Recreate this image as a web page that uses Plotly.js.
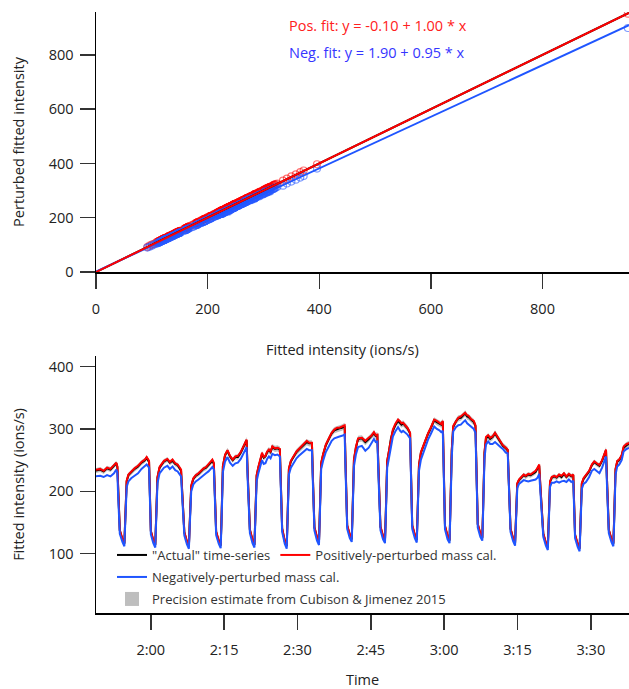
<!DOCTYPE html>
<html>
<head>
<meta charset="utf-8">
<script src="https://cdn.plot.ly/plotly-3.0.1.min.js"></script>
<style>
html,body{margin:0;padding:0;background:#fff;}
#chart{width:629px;height:689px;}
</style>
</head>
<body>
<div id="chart"></div>
<script>
// ---------------- DATA ----------------
// Time in minutes after 0:00 (2:00 = 120). One line per plateau / dip.
const timeMin = [
  108.5,109.65,110.36,111.06,111.76,112.47,112.96,113.17,
  113.33,113.5,113.67,114.2,114.6,114.75,114.9,115.07,115.43,
  115.99,116.69,117.40,118.10,118.81,119.16,119.65,
  119.77,119.9,120.02,120.52,120.92,121.07,121.22,121.37,121.8,
  122.3,122.7,123.4,123.9,124.45,125.0,125.5,126.2,
  126.42,126.65,126.87,127.4,127.8,127.95,128.1,128.27,128.7,
  129.2,129.76,130.3,130.8,131.3,131.8,132.3,132.6,132.9,
  133.05,133.2,133.37,133.9,134.3,134.45,134.6,134.75,
  135.2,135.7,136.2,136.76,137.3,137.82,138.4,138.88,139.3,139.6,
  139.8,140.03,140.27,140.8,141.2,141.35,141.5,141.65,142.0,
  142.4,142.75,143.1,143.45,143.8,144.16,144.5,144.86,145.4,145.92,146.4,
  146.55,146.7,146.87,147.4,147.8,147.95,148.1,148.25,148.65,
  149.2,149.8,150.3,150.85,151.4,151.9,152.4,152.96,
  153.13,153.3,153.47,154.0,154.4,154.55,154.7,154.85,155.25,
  155.8,156.48,157.0,157.54,158.1,158.6,159.1,159.65,
  159.82,160.0,160.17,160.7,161.1,161.25,161.4,161.55,161.95,
  162.4,163.17,163.88,164.58,165.1,165.64,166.0,166.34,
  166.55,166.77,166.97,167.5,167.9,168.05,168.2,168.35,168.75,
  169.1,169.51,170.0,170.57,171.0,171.27,171.6,171.97,172.5,173.03,
  173.18,173.33,173.47,174.0,174.4,174.55,174.7,174.85,175.25,
  175.7,176.2,176.7,177.26,177.96,178.5,179.02,179.4,179.72,
  179.87,180.02,180.17,180.7,181.1,181.25,181.4,181.55,
  181.85,182.4,182.89,183.4,183.9,184.3,184.7,185.0,185.5,186.06,186.4,
  186.56,186.72,186.87,187.4,187.8,187.95,188.1,188.25,188.55,
  189.0,189.4,189.9,190.4,190.9,191.5,192.0,192.6,193.0,
  193.2,193.38,193.57,194.1,194.5,194.65,194.8,194.95,195.3,
  195.8,196.27,196.7,197.2,197.68,198.2,198.7,199.1,199.44,
  199.7,200.0,200.27,200.8,201.2,201.35,201.5,201.65,202.0,
  202.5,203.0,203.5,204.0,204.5,205.0,205.5,206.0,206.4,
  206.52,206.65,206.77,207.3,207.7,207.85,208.0,208.15,208.5,
  209.0,209.65,210.2,210.7,211.2,211.76,212.3,212.8,213.1,
  213.3,213.48,213.67,214.2,214.6,214.75,214.9,215.05,215.4,
  215.8,216.3,216.7,217.3,218.0
];
// "Actual" fitted intensity (ions/s)
const actual = [
  233,235,232,237,235,240,245,239,
  200,163,137,123,116,148,188,216,226,
  231,236,240,246,250,254,247,
  205,165,136,121,114,150,192,222,238,
  244,248,251,246,249,244,242,233,
  200,162,134,119,112,145,182,208,220,
  225,228,233,236,238,242,246,249,244,
  205,165,135,120,113,150,195,240,
  258,265,256,250,255,255,262,269,276,282,
  232,180,138,122,114,150,192,225,238,
  250,260,254,256,263,266,263,271,268,269,267,
  222,178,140,120,112,150,197,236,248,
  256,263,267,271,275,279,277,277,
  228,182,142,126,118,158,205,245,259,
  274,285,293,298,300,301,302,305,
  248,192,145,130,123,162,210,250,270,
  284,285,279,284,288,293,289,290,
  238,185,143,128,121,160,206,248,266,
  284,297,306,313,310,307,309,305,301,293,
  242,188,145,130,122,160,203,242,262,
  272,282,292,301,314,311,309,307,312,
  255,195,144,128,121,165,218,265,
  303,312,317,318,322,325,320,319,315,311,305,
  250,195,147,132,125,168,218,262,285,
  288,284,287,293,286,278,273,269,266,
  220,175,140,124,117,148,182,212,218,
  222,226,224,227,226,229,231,237,241,
  205,165,132,117,110,145,182,215,222,
  224,222,226,223,228,223,227,224,226,
  195,160,130,115,108,142,180,212,220,
  225,232,242,247,244,241,249,260,266,
  218,172,138,123,116,152,195,235,248,
  250,257,270,274,277
];
// Positively-perturbed mass calibration
const posCal = [
  234,236,233,238,236,241,246,240,
  201,164,138,124,117,149,189,217,227,
  232,237,241,247,251,255,249,
  206,166,137,122,115,151,193,223,239,
  245,249,252,247,251,245,243,235,
  201,163,135,120,113,146,183,209,221,
  226,229,234,237,239,243,247,251,246,
  206,166,136,121,114,151,196,241,
  259,266,257,251,256,257,263,270,277,283,
  233,181,139,123,115,151,193,226,239,
  251,262,255,257,264,267,264,272,269,270,268,
  223,179,141,121,113,151,198,237,249,
  257,264,268,272,276,281,278,278,
  229,183,143,127,119,159,206,246,260,
  275,286,294,299,302,302,304,306,
  249,193,146,131,124,163,211,251,271,
  285,286,281,286,289,295,290,291,
  239,186,144,129,122,161,207,249,267,
  285,299,308,315,312,309,310,307,302,294,
  243,189,146,131,123,161,204,243,263,
  273,283,293,302,315,313,310,308,313,
  256,196,145,129,122,166,219,266,
  305,313,318,320,324,326,322,321,316,313,306,
  251,196,148,133,126,169,219,263,287,
  290,286,288,294,288,280,274,270,267,
  221,176,141,125,118,149,183,213,219,
  223,227,225,228,227,230,233,238,243,
  206,166,133,118,111,146,183,216,223,
  225,223,227,225,229,224,228,225,227,
  196,161,131,116,109,143,181,213,221,
  226,233,243,248,245,242,250,261,267,
  219,173,139,124,117,153,196,236,249,
  251,258,272,276,278
];
// Negatively-perturbed mass calibration
const negCal = [
  224,225,223,226,224,229,235,230,
  192,157,132,119,112,143,181,207,216,
  221,225,229,236,240,243,238,
  197,159,131,117,110,145,184,213,229,
  234,238,241,236,240,234,232,224,
  192,156,129,115,108,140,175,200,211,
  216,219,223,226,229,232,236,239,235,
  197,159,130,116,109,145,187,231,
  248,255,246,241,245,246,252,259,265,271,
  222,173,133,117,110,145,184,216,229,
  240,250,244,245,252,256,253,260,258,259,256,
  213,171,135,116,108,145,189,227,238,
  246,253,257,261,265,268,266,266,
  219,175,137,121,114,152,197,236,249,
  263,273,281,285,287,288,289,291,
  238,184,140,125,119,156,202,240,259,
  271,273,265,270,276,284,279,280,
  228,178,138,123,117,154,198,238,255,
  273,288,296,303,297,295,297,295,291,285,
  232,181,140,125,118,154,195,233,251,
  262,272,283,292,304,300,298,295,297,
  244,187,139,123,117,159,209,254,
  296,303,306,307,311,314,309,307,303,300,294,
  240,187,142,127,121,162,209,253,275,
  280,276,276,279,275,271,268,262,261,
  211,168,135,120,113,143,175,205,212,
  215,218,217,216,217,218,219,222,228,
  197,159,127,113,106,140,175,207,214,
  214,216,214,216,217,215,219,215,217,
  187,154,125,111,104,137,173,204,212,
  215,223,233,236,232,229,238,250,256,
  209,165,133,119,112,146,187,227,240,
  243,250,264,268,270
];
// Precision estimate (Cubison & Jimenez 2015), ions/s, +/- around "actual"
const precision = [
  4,4,4,4,4,4,4,4,
  4,3,3,3,3,3,4,4,4,
  4,4,4,4,4,4,4,
  4,3,3,3,3,3,4,4,4,
  4,4,4,4,4,4,4,4,
  4,3,3,3,3,3,4,4,4,
  4,4,4,4,4,4,4,4,4,
  4,3,3,3,3,3,4,4,
  4,5,4,4,4,4,5,5,5,5,
  4,4,3,3,3,3,4,4,4,
  4,5,4,4,5,5,5,5,5,5,5,
  4,3,3,3,3,3,4,4,4,
  4,5,5,5,5,5,5,5,
  4,4,3,3,3,3,4,4,4,
  5,5,5,5,5,5,5,5,
  4,4,3,3,3,3,4,4,5,
  5,5,5,5,5,5,5,5,
  4,4,3,3,3,3,4,4,5,
  5,5,5,5,5,5,5,5,5,5,
  4,4,3,3,3,3,4,4,5,
  5,5,5,5,5,5,5,5,5,
  4,4,3,3,3,3,4,5,
  5,5,5,5,5,5,5,5,5,5,5,
  4,4,3,3,3,3,4,5,5,
  5,5,5,5,5,5,5,5,5,
  4,3,3,3,3,3,4,4,4,
  4,4,4,4,4,4,4,4,4,
  4,3,3,3,3,3,4,4,4,
  4,4,4,4,4,4,4,4,4,
  4,3,3,3,3,3,4,4,4,
  4,4,4,4,4,4,4,5,5,
  4,3,3,3,3,3,4,4,4,
  4,4,5,5,5
];
// Scatter points seen in the upper panel outside the plotted time window
const extraActual = [92, 96, 100, 104, 335, 342, 350, 358, 366, 372, 396, 953];
const extraPos    = [92, 97, 101, 104, 337, 344, 352, 360, 368, 374, 397, 952];
const extraNeg    = [90, 93,  97, 101, 318, 326, 333, 340, 348, 354, 381, 899];

// Linear fits (coefficients shown on the chart)
const posFitIntercept = -0.10, posFitSlope = 1.00;
const negFitIntercept = 1.90,  negFitSlope = 0.95;
const fitX = [0, 955];

// Tick labels
const timeTickVals = [120, 135, 150, 165, 180, 195, 210];
const timeTickText = ['2:00', '2:15', '2:30', '2:45', '3:00', '3:15', '3:30'];

// ---------------- FIGURE ----------------
const FONT = '"Open Sans", "Noto Sans", "DejaVu Sans", sans-serif';
const RED = '#ff0000', BLUE = '#1f55ff', BLACK = '#000000';

const n = Math.min(timeMin.length, actual.length, posCal.length, negCal.length, precision.length);
const T = timeMin.slice(0, n), A = actual.slice(0, n), P = posCal.slice(0, n), N = negCal.slice(0, n);
const upper = A.map((v, i) => v + precision[i]);
const lower = A.map((v, i) => v - precision[i]);

const traces = [
  // ---- top panel ----
  {x: A.concat(extraActual), y: P.concat(extraPos), xaxis: 'x', yaxis: 'y',
   type: 'scatter', mode: 'markers', showlegend: false,
   marker: {symbol: 'circle-open', size: 7, color: 'rgba(255,0,0,0.55)', line: {width: 1.2}}},
  {x: A.concat(extraActual), y: N.concat(extraNeg), xaxis: 'x', yaxis: 'y',
   type: 'scatter', mode: 'markers', showlegend: false,
   marker: {symbol: 'circle-open', size: 7, color: 'rgba(40,90,255,0.6)', line: {width: 1.2}}},
  {x: fitX, y: fitX, xaxis: 'x', yaxis: 'y', type: 'scatter', mode: 'lines', showlegend: false,
   line: {color: BLACK, width: 2}},
  {x: fitX, y: fitX.map(v => negFitIntercept + negFitSlope * v), xaxis: 'x', yaxis: 'y',
   type: 'scatter', mode: 'lines', showlegend: false, line: {color: BLUE, width: 2}},
  {x: fitX, y: fitX.map(v => posFitIntercept + posFitSlope * v), xaxis: 'x', yaxis: 'y',
   type: 'scatter', mode: 'lines', showlegend: false, line: {color: RED, width: 2}},

  // ---- bottom panel ----
  {x: T, y: lower, xaxis: 'x2', yaxis: 'y2', type: 'scatter', mode: 'lines',
   line: {width: 0, color: 'rgba(0,0,0,0)'}, showlegend: false},
  {x: T, y: upper, xaxis: 'x2', yaxis: 'y2', type: 'scatter', mode: 'lines',
   fill: 'tonexty', fillcolor: 'rgba(150,150,150,0.6)',
   line: {width: 0, color: 'rgba(0,0,0,0)'}, showlegend: false},
  {x: T, y: A, xaxis: 'x2', yaxis: 'y2', type: 'scatter', mode: 'lines',
   name: '"Actual" time-series', legend: 'legend', line: {color: BLACK, width: 2}},
  {x: T, y: P, xaxis: 'x2', yaxis: 'y2', type: 'scatter', mode: 'lines',
   name: 'Positively-perturbed mass cal.', legend: 'legend', line: {color: RED, width: 2}},
  {x: T, y: N, xaxis: 'x2', yaxis: 'y2', type: 'scatter', mode: 'lines',
   name: 'Negatively-perturbed mass cal.', legend: 'legend2', line: {color: BLUE, width: 2}},
  {x: [null], y: [null], xaxis: 'x2', yaxis: 'y2', type: 'scatter', mode: 'markers',
   name: 'Precision estimate from Cubison & Jimenez 2015', legend: 'legend3',
   marker: {symbol: 'square', size: 14, color: 'rgb(190,190,190)'}}
];

const M = {l: 96, r: 0, t: 12, b: 76};
const PH = 689 - M.t - M.b;           // plot-area height in px
const PW = 629 - M.l - M.r;
const py = p => (689 - M.b - p) / PH; // pixel y -> paper
const px = p => (p - M.l) / PW;       // pixel x -> paper

const axisCommon = {
  showgrid: false, zeroline: false, showline: true, linecolor: '#000', linewidth: 1.5,
  ticks: 'outside', ticklen: 15, tickwidth: 1.5, tickcolor: '#333',
  tickfont: {family: FONT, size: 14.5, color: '#222'}, fixedrange: true
};

const legendCommon = {
  orientation: 'h', xanchor: 'left', yanchor: 'middle', bgcolor: 'rgba(0,0,0,0)',
  borderwidth: 0, font: {family: FONT, size: 13, color: '#333'}, traceorder: 'normal'
};

const layout = {
  width: 629, height: 689, margin: {l: M.l, r: M.r, t: M.t, b: M.b, pad: 0},
  paper_bgcolor: '#fff', plot_bgcolor: '#fff', font: {family: FONT, color: '#222'},
  xaxis: Object.assign({}, axisCommon, {domain: [0, 1], anchor: 'y', range: [0, 955],
    tickvals: [0, 200, 400, 600, 800], ticklabelstandoff: 8}),
  yaxis: Object.assign({}, axisCommon, {domain: [py(272), 1], anchor: 'x', range: [0, 958],
    tickvals: [0, 200, 400, 600, 800], ticklabelstandoff: 3,
    title: {text: 'Perturbed fitted intensity', font: {family: FONT, size: 14.5, color: '#222'}, standoff: 20}}),
  xaxis2: Object.assign({}, axisCommon, {domain: [0, 1], anchor: 'y2', range: [108.8, 217.8],
    tickvals: timeTickVals, ticktext: timeTickText, ticklabelstandoff: 8,
    title: {text: 'Time', font: {family: FONT, size: 14.5, color: '#222'}, standoff: 17}}),
  yaxis2: Object.assign({}, axisCommon, {domain: [0, py(356)], anchor: 'x2', range: [5, 417],
    tickvals: [100, 200, 300, 400], ticklabelstandoff: 3,
    title: {text: 'Fitted intensity (ions/s)', font: {family: FONT, size: 14.5, color: '#222'}, standoff: 20}}),
  legend: Object.assign({}, legendCommon, {x: px(112), y: py(555)}),
  legend2: Object.assign({}, legendCommon, {x: px(112), y: py(577)}),
  legend3: Object.assign({}, legendCommon, {x: px(112), y: py(599)}),
  annotations: [
    {xref: 'paper', yref: 'paper', x: px(342), y: py(350), xanchor: 'center', yanchor: 'middle',
     text: 'Fitted intensity (ions/s)', showarrow: false, font: {family: FONT, size: 14.5, color: '#222'}},
    {xref: 'paper', yref: 'paper', x: px(287), y: py(26), xanchor: 'left', yanchor: 'middle',
     text: 'Pos. fit: y = -0.10 + 1.00 * x', showarrow: false, font: {family: FONT, size: 14.5, color: '#ff2020'}},
    {xref: 'paper', yref: 'paper', x: px(287), y: py(52), xanchor: 'left', yanchor: 'middle',
     text: 'Neg. fit: y = 1.90 + 0.95 * x', showarrow: false, font: {family: FONT, size: 14.5, color: '#3535ff'}}
  ],
  hovermode: false
};

Plotly.newPlot('chart', traces, layout, {displayModeBar: false, staticPlot: true});
</script>
</body>
</html>
